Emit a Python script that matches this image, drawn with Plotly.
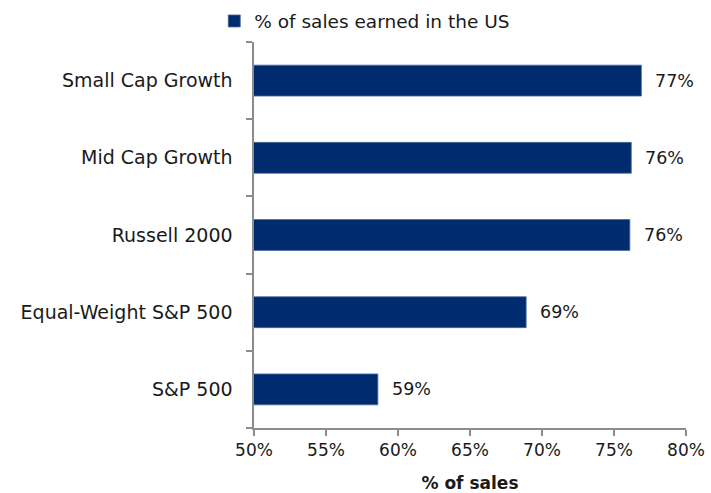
import plotly.graph_objects as go

categories = ["Small Cap Growth", "Mid Cap Growth", "Russell 2000", "Equal-Weight S&P 500", "S&P 500"]
values = [0.769, 0.762, 0.761, 0.689, 0.586]
series_name = "% of sales earned in the US"
x_ticks = [0.50, 0.55, 0.60, 0.65, 0.70, 0.75, 0.80]
x_tick_labels = ["50%", "55%", "60%", "65%", "70%", "75%", "80%"]

BAR = "#002B6E"
FONT = "DejaVu Sans, sans-serif"
TXT = "#1a1a1a"

fig = go.Figure()
fig.add_trace(go.Bar(
    y=categories, x=values, orientation="h", name=series_name,
    marker=dict(color=BAR, line=dict(color="#4A6A9E", width=0.8)),
    showlegend=True,
))

for c, v in zip(categories, values):
    fig.add_annotation(x=v, y=c, xref="x", yref="y", text=f"{round(v*100):.0f}%", showarrow=False,
                       xanchor="left", xshift=12, font=dict(size=17.5, color=TXT, family=FONT))

fig.update_layout(
    width=711, height=493,
    margin=dict(l=254, r=25, t=42, b=65, autoexpand=False),
    paper_bgcolor="white", plot_bgcolor="white",
    font=dict(family=FONT, size=17, color=TXT),
    bargap=0.6,
    legend=dict(orientation="h", x=-0.092, xanchor="left", y=1.004, yanchor="bottom",
                font=dict(size=18.5), itemwidth=30, bgcolor="rgba(0,0,0,0)"),
    xaxis=dict(range=[0.5, 0.8], tickvals=x_ticks, ticktext=x_tick_labels, automargin=False,
               showgrid=False, zeroline=False, showline=True, linecolor="#8c8c8c", linewidth=1.5,
               ticks="outside", ticklen=6, tickcolor="#8c8c8c", tickwidth=1.5,
               tickfont=dict(size=17),
               title=dict(text="<b>% of sales</b>", font=dict(size=17), standoff=23)),
    yaxis=dict(categoryorder="array", categoryarray=categories[::-1], automargin=False,
               showgrid=False, zeroline=False, showline=True, linecolor="#8c8c8c", linewidth=1.5,
               ticks="outside", ticklen=6, tickcolor="#8c8c8c", tickwidth=1.5,
               tickfont=dict(size=19),
               tickson="boundaries", ticksuffix="  \u2009"),
)

fig.write_html("out.html", config={"displayModeBar": False},
               post_script="document.body.style.margin='0';")
